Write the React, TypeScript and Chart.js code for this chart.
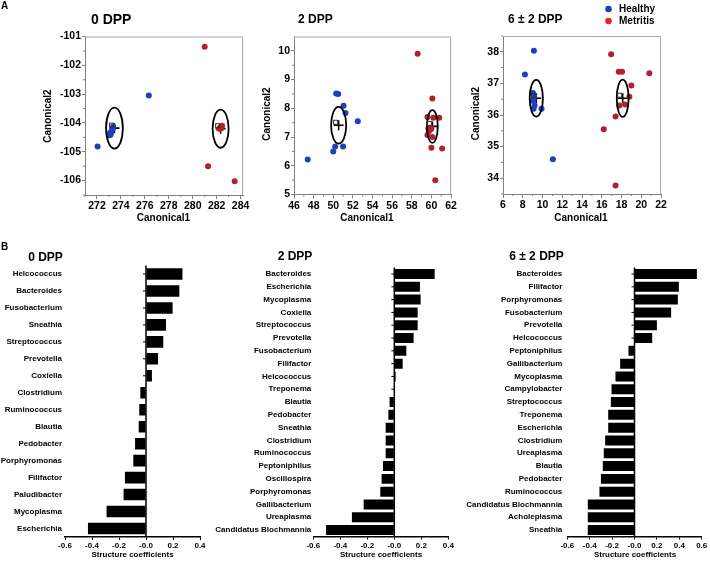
import React, { useEffect, useRef } from 'react';
import { Chart, registerables } from 'chart.js';
Chart.register(...registerables);

const FONT = '"Liberation Sans", Arial, Helvetica, sans-serif';
Chart.defaults.font.family = FONT;
Chart.defaults.color = '#000';

const W = 710;
const H = 561;

const BLUE = '#1f3fbf';
const RED = '#b3202c';
const LEGEND_RED = '#e0262a';

// ---------- Panel A: canonical scatter data ----------
// 0 DPP
const s0HealthyX = [272.05, 276.33, 273.05, 273.1, 273.2, 273.3, 273.35, 273.15];
const s0HealthyY = [-104.82, -103.05, -104.43, -104.35, -104.3, -104.22, -104.12, -104.4];
const s0MetritisX = [281.0, 281.28, 283.5, 282.45, 282.3, 282.2, 282.4];
const s0MetritisY = [-101.36, -105.5, -106.02, -104.1, -104.15, -104.2, -104.18];
const s0CenterX = [273.46, 282.33];
const s0CenterY = [-104.18, -104.2];
const s0RadiusX = [0.7, 0.67];
const s0RadiusY = [0.71, 0.66];
const s0XTicks = [272, 274, 276, 278, 280, 282, 284];
const s0YTicks = [-106, -105, -104, -103, -102, -101];
const s0XMinor = [271, 273, 275, 277, 279, 281, 283];
const s0YMinor = [-106.5, -105.5, -104.5, -103.5, -102.5, -101.5];

// 2 DPP
const s2HealthyX = [47.4, 50.3, 50.5, 51.05, 51.25, 52.5, 51.0, 50.2, 50.0];
const s2HealthyY = [6.22, 8.52, 8.5, 8.09, 7.84, 7.55, 6.67, 6.67, 6.5];
const s2MetritisX = [58.6, 60.1, 59.6, 60.2, 60.8, 59.7, 60.0, 59.6, 60.1, 60.0, 61.1, 60.4, 59.75];
const s2MetritisY = [9.9, 8.34, 7.7, 7.67, 7.67, 7.3, 7.3, 7.07, 7.0, 6.63, 6.6, 5.5, 7.2];
const s2CenterX = [50.55, 60.1];
const s2CenterY = [7.41, 7.37];
const s2RadiusX = [0.77, 0.55];
const s2RadiusY = [0.64, 0.57];
const s2XTicks = [46, 48, 50, 52, 54, 56, 58, 60, 62];
const s2YTicks = [5, 6, 7, 8, 9, 10];
const s2XMinor = [47, 49, 51, 53, 55, 57, 59, 61];
const s2YMinor = [5.5, 6.5, 7.5, 8.5, 9.5];

// 6 ± 2 DPP
const s6HealthyX = [9.13, 8.22, 9.03, 9.1, 9.2, 9.1, 9.9, 9.0, 9.15, 11.05];
const s6HealthyY = [38.03, 37.28, 36.7, 36.5, 36.3, 36.2, 36.2, 36.45, 36.6, 34.6];
const s6MetritisX = [16.95, 17.72, 18.06, 20.82, 19.0, 18.8, 17.78, 18.36, 17.4, 16.2, 17.4];
const s6MetritisY = [37.92, 37.37, 37.37, 37.32, 36.93, 36.58, 36.3, 36.33, 35.95, 35.55, 33.77];
const s6CenterX = [9.37, 18.12];
const s6CenterY = [36.53, 36.53];
const s6RadiusX = [0.67, 0.6];
const s6RadiusY = [0.58, 0.59];
const s6XTicks = [6, 8, 10, 12, 14, 16, 18, 20, 22];
const s6YTicks = [34, 35, 36, 37, 38];
const s6XMinor = [7, 9, 11, 13, 15, 17, 19, 21];
const s6YMinor = [33.5, 34.5, 35.5, 36.5, 37.5, 38.5];

// ---------- Panel B: structure coefficients ----------
const b0Categories = ['Helcococcus', 'Bacteroides', 'Fusobacterium', 'Sneathia', 'Streptococcus', 'Prevotella', 'Coxiella', 'Clostridium', 'Ruminococcus', 'Blautia', 'Pedobacter', 'Porphyromonas', 'Filifactor', 'Paludibacter', 'Mycoplasma', 'Escherichia'];
const b0Values = [0.27, 0.247, 0.197, 0.148, 0.128, 0.089, 0.044, -0.042, -0.05, -0.054, -0.081, -0.094, -0.156, -0.166, -0.292, -0.43];

const b2Categories = ['Bacteroides', 'Escherichia', 'Mycoplasma', 'Coxiella', 'Streptococcus', 'Prevotella', 'Fusobacterium', 'Filifactor', 'Helcococcus', 'Treponema', 'Blautia', 'Pedobacter', 'Sneathia', 'Clostridium', 'Ruminococcus', 'Peptoniphilus', 'Oscillospira', 'Porphyromonas', 'Gallibacterium', 'Ureaplasma', 'Candidatus Blochmannia'];
const b2Values = [0.299, 0.19, 0.195, 0.173, 0.173, 0.143, 0.089, 0.062, 0.01, 0.002, -0.035, -0.044, -0.064, -0.064, -0.064, -0.084, -0.094, -0.104, -0.227, -0.314, -0.506];

const b6Categories = ['Bacteroides', 'Filifactor', 'Porphyromonas', 'Fusobacterium', 'Prevotella', 'Helcococcus', 'Peptoniphilus', 'Gallibacterium', 'Mycoplasma', 'Campylobacter', 'Streptococcus', 'Treponema', 'Escherichia', 'Clostridium', 'Ureaplasma', 'Blautia', 'Pedobacter', 'Ruminococcus', 'Candidatus Blochmannia', 'Acholeplasma', 'Sneathia'];
const b6Values = [0.557, 0.396, 0.387, 0.327, 0.2, 0.158, -0.054, -0.128, -0.17, -0.205, -0.211, -0.235, -0.235, -0.262, -0.274, -0.283, -0.3, -0.313, -0.417, -0.417, -0.417];

const bTicks04 = [-0.6, -0.4, -0.2, 0, 0.2, 0.4];
const bTickLabels04 = ['-0.6', '-0.4', '-0.2', '-0.0', '0.2', '0.4'];
const bTicks06 = [-0.6, -0.4, -0.2, 0, 0.2, 0.4, 0.6];
const bTickLabels06 = ['-0.6', '-0.4', '-0.2', '-0.0', '0.2', '0.4', '0.6'];

const legendLabels = ['Healthy', 'Metritis'];

// ---------- helpers ----------
type Area = { left: number; right: number; top: number; bottom: number };
type TextItem = { t: string; x: number; y: number; size: number; rot?: boolean; align?: CanvasTextAlign };

function drawTexts(ctx: CanvasRenderingContext2D, texts: TextItem[]) {
  ctx.save();
  ctx.fillStyle = '#000';
  ctx.textBaseline = 'middle';
  for (const it of texts) {
    ctx.font = `bold ${it.size}px ${FONT}`;
    ctx.textAlign = it.align || 'center';
    if (it.rot) {
      ctx.save();
      ctx.translate(it.x, it.y);
      ctx.rotate(-Math.PI / 2);
      ctx.fillText(it.t, 0, 0);
      ctx.restore();
    } else {
      ctx.fillText(it.t, it.x, it.y);
    }
  }
  ctx.restore();
}

interface ScatterPanel {
  area: Area;
  xMin: number; xMax: number; yMin: number; yMax: number;
  xTicks: number[]; yTicks: number[]; xMinor: number[]; yMinor: number[];
  hx: number[]; hy: number[]; mx: number[]; my: number[];
  cx: number[]; cy: number[]; rx: number[]; ry: number[];
  texts: TextItem[];
  legend?: boolean;
}

function scatterConfig(p: ScatterPanel): any {
  const decor = {
    id: 'decor',
    beforeDatasetsDraw(chart: any) {
      const { ctx, chartArea: a, scales } = chart;
      ctx.save();
      ctx.strokeStyle = '#a8a8a8';
      ctx.lineWidth = 1;
      ctx.beginPath();
      ctx.moveTo(a.left, a.top + 0.5);
      ctx.lineTo(a.right - 0.5, a.top + 0.5);
      ctx.lineTo(a.right - 0.5, a.bottom);
      ctx.stroke();
      ctx.strokeStyle = '#808080';
      ctx.beginPath();
      for (const v of p.yMinor) {
        const y = scales.y.getPixelForValue(v);
        ctx.moveTo(a.left - 2, y);
        ctx.lineTo(a.left, y);
      }
      for (const v of p.xMinor) {
        const x = scales.x.getPixelForValue(v);
        ctx.moveTo(x, a.bottom);
        ctx.lineTo(x, a.bottom + 2);
      }
      ctx.stroke();
      ctx.restore();
    },
    afterDatasetsDraw(chart: any) {
      const { ctx, scales } = chart;
      ctx.save();
      ctx.strokeStyle = '#000';
      ctx.lineWidth = 1.8;
      for (let i = 0; i < p.cx.length; i++) {
        const x0 = scales.x.getPixelForValue(p.cx[i]);
        const y0 = scales.y.getPixelForValue(p.cy[i]);
        const rxp = Math.abs(scales.x.getPixelForValue(p.cx[i] + p.rx[i]) - x0);
        const ryp = Math.abs(scales.y.getPixelForValue(p.cy[i] + p.ry[i]) - y0);
        ctx.beginPath();
        ctx.ellipse(x0, y0, rxp, ryp, 0, 0, Math.PI * 2);
        ctx.stroke();
        ctx.lineWidth = 1;
        ctx.strokeStyle = '#333';
        ctx.strokeRect(x0 - 5, y0 - 5, 4, 4);
        ctx.lineWidth = 1.8;
        ctx.strokeStyle = '#000';
      }
      ctx.restore();
    },
    afterDraw(chart: any) {
      const { ctx } = chart;
      drawTexts(ctx, p.texts);
      if (p.legend) {
        const cols = [BLUE, LEGEND_RED];
        ctx.save();
        legendLabels.forEach((lab, i) => {
          const y = 9 + i * 12;
          ctx.fillStyle = cols[i];
          ctx.beginPath();
          ctx.arc(608.5, y, 3.3, 0, Math.PI * 2);
          ctx.fill();
        });
        ctx.restore();
        drawTexts(ctx, legendLabels.map((lab, i) => ({ t: lab, x: 619, y: 9 + i * 12, size: 10, align: 'left' as CanvasTextAlign })));
      }
    },
  };
  const tickFont = { size: 10.5, weight: 'bold' as const, family: FONT };
  return {
    type: 'scatter',
    data: {
      datasets: [
        { label: 'Healthy', data: p.hx.map((x, i) => ({ x, y: p.hy[i] })), backgroundColor: BLUE, borderWidth: 0, pointRadius: 3 },
        { label: 'Metritis', data: p.mx.map((x, i) => ({ x, y: p.my[i] })), backgroundColor: RED, borderWidth: 0, pointRadius: 3 },
        { label: 'Mean', data: p.cx.map((x, i) => ({ x, y: p.cy[i] })), pointStyle: 'cross', pointRadius: 5, borderColor: '#000', borderWidth: 1.6, backgroundColor: '#000' },
      ],
    },
    options: {
      animation: false,
      responsive: false,
      events: [],
      layout: { padding: { left: 0, top: p.area.top, right: W - p.area.right, bottom: 0 } },
      plugins: { legend: { display: false }, tooltip: { enabled: false }, title: { display: false } },
      scales: {
        x: {
          type: 'linear',
          min: p.xMin,
          max: p.xMax,
          afterFit: (s: any) => { s.height = H - p.area.bottom; },
          afterBuildTicks: (s: any) => { s.ticks = p.xTicks.map((v) => ({ value: v })); },
          grid: { display: true, drawOnChartArea: false, drawTicks: true, tickLength: 4, color: '#808080' },
          border: { display: true, color: '#808080', width: 1 },
          ticks: { font: tickFont, color: '#000', padding: 1, autoSkip: false, maxRotation: 0, callback: (v: any) => String(v) },
        },
        y: {
          type: 'linear',
          min: p.yMin,
          max: p.yMax,
          afterFit: (s: any) => { s.width = p.area.left; },
          afterBuildTicks: (s: any) => { s.ticks = p.yTicks.map((v) => ({ value: v })); },
          grid: { display: true, drawOnChartArea: false, drawTicks: true, tickLength: 3, color: '#808080' },
          border: { display: true, color: '#808080', width: 1 },
          ticks: { font: tickFont, color: '#000', padding: 1, autoSkip: false, callback: (v: any) => String(v) },
        },
      },
    },
    plugins: [decor],
  };
}

interface BarPanel {
  area: Area;
  categories: string[];
  values: number[];
  xMin: number; xMax: number;
  ticks: number[]; tickLabels: string[];
  barPct: number;
  labelPad: number;
  texts: TextItem[];
}

function barConfig(p: BarPanel): any {
  const decor = {
    id: 'barDecor',
    afterDatasetsDraw(chart: any) {
      const { ctx, chartArea: a, scales } = chart;
      const x0 = scales.x.getPixelForValue(0);
      ctx.save();
      ctx.strokeStyle = '#000';
      ctx.lineWidth = 1.5;
      ctx.beginPath();
      ctx.moveTo(x0, a.top);
      ctx.lineTo(x0, a.bottom);
      ctx.stroke();
      ctx.lineWidth = 1;
      ctx.beginPath();
      p.categories.forEach((_, i) => {
        const y = scales.y.getPixelForValue(i);
        ctx.moveTo(x0 - 3, y);
        ctx.lineTo(x0, y);
      });
      ctx.stroke();
      ctx.restore();
    },
    afterDraw(chart: any) {
      drawTexts(chart.ctx, p.texts);
    },
  };
  const tickFont = { size: 8, weight: 'bold' as const, family: FONT };
  return {
    type: 'bar',
    data: {
      labels: p.categories,
      datasets: [{ data: p.values, backgroundColor: '#000', borderWidth: 0, barPercentage: p.barPct, categoryPercentage: 1 }],
    },
    options: {
      indexAxis: 'y',
      animation: false,
      responsive: false,
      events: [],
      layout: { padding: { left: 0, top: p.area.top, right: W - p.area.right, bottom: 0 } },
      plugins: { legend: { display: false }, tooltip: { enabled: false }, title: { display: false } },
      scales: {
        x: {
          type: 'linear',
          min: p.xMin,
          max: p.xMax,
          afterFit: (s: any) => { s.height = H - p.area.bottom; },
          afterBuildTicks: (s: any) => { s.ticks = p.ticks.map((v) => ({ value: v })); },
          grid: { display: true, drawOnChartArea: false, drawTicks: true, tickLength: 3, color: '#000', lineWidth: 1 },
          border: { display: true, color: '#000', width: 1.5 },
          ticks: {
            font: tickFont, color: '#000', padding: 1, autoSkip: false, maxRotation: 0,
            callback: (_v: any, i: number) => p.tickLabels[i],
          },
        },
        y: {
          type: 'category',
          afterFit: (s: any) => { s.width = p.area.left; },
          grid: { display: false, drawTicks: false },
          border: { display: false },
          ticks: { font: tickFont, color: '#000', padding: p.labelPad, autoSkip: false },
        },
      },
    },
    plugins: [decor],
  };
}

function ChartCanvas({ make }: { make: () => any }) {
  const ref = useRef<HTMLCanvasElement | null>(null);
  useEffect(() => {
    const chart = new Chart(ref.current as HTMLCanvasElement, make());
    return () => chart.destroy();
  }, []);
  return (
    <canvas
      ref={ref}
      width={W}
      height={H}
      style={{ position: 'absolute', left: 0, top: 0, width: W, height: H }}
    />
  );
}

const panels: (() => any)[] = [
  () => scatterConfig({
    area: { left: 85, right: 243, top: 36.5, bottom: 195 },
    xMin: 271, xMax: 284.2, yMin: -106.5, yMax: -101,
    xTicks: s0XTicks, yTicks: s0YTicks, xMinor: s0XMinor, yMinor: s0YMinor,
    hx: s0HealthyX, hy: s0HealthyY, mx: s0MetritisX, my: s0MetritisY,
    cx: s0CenterX, cy: s0CenterY, rx: s0RadiusX, ry: s0RadiusY,
    texts: [
      { t: 'A', x: 1, y: 6, size: 10, align: 'left' },
      { t: '0 DPP', x: 91, y: 20, size: 14, align: 'left' },
      { t: 'Canonical1', x: 163.5, y: 218, size: 10 },
      { t: 'Canonical2', x: 48, y: 116, size: 10, rot: true },
    ],
  }),
  () => scatterConfig({
    area: { left: 294, right: 451, top: 36.5, bottom: 194.5 },
    xMin: 46, xMax: 62, yMin: 5, yMax: 10.5,
    xTicks: s2XTicks, yTicks: s2YTicks, xMinor: s2XMinor, yMinor: s2YMinor,
    hx: s2HealthyX, hy: s2HealthyY, mx: s2MetritisX, my: s2MetritisY,
    cx: s2CenterX, cy: s2CenterY, rx: s2RadiusX, ry: s2RadiusY,
    texts: [
      { t: '2 DPP', x: 298, y: 20, size: 12, align: 'left' },
      { t: 'Canonical1', x: 367, y: 218, size: 10 },
      { t: 'Canonical2', x: 267, y: 114, size: 10, rot: true },
    ],
  }),
  () => scatterConfig({
    area: { left: 503, right: 661, top: 36, bottom: 194 },
    xMin: 6, xMax: 22, yMin: 33.5, yMax: 38.5,
    xTicks: s6XTicks, yTicks: s6YTicks, xMinor: s6XMinor, yMinor: s6YMinor,
    hx: s6HealthyX, hy: s6HealthyY, mx: s6MetritisX, my: s6MetritisY,
    cx: s6CenterX, cy: s6CenterY, rx: s6RadiusX, ry: s6RadiusY,
    legend: true,
    texts: [
      { t: '6 ± 2 DPP', x: 508, y: 20, size: 12, align: 'left' },
      { t: 'Canonical1', x: 581, y: 218, size: 10 },
      { t: 'Canonical2', x: 476.5, y: 113.5, size: 10, rot: true },
    ],
  }),
  () => barConfig({
    area: { left: 65, right: 200, top: 265.5, bottom: 537 },
    categories: b0Categories, values: b0Values,
    xMin: -0.6, xMax: 0.4, ticks: bTicks04, tickLabels: bTickLabels04,
    barPct: 0.68, labelPad: 3,
    texts: [
      { t: 'B', x: 1, y: 247, size: 10, align: 'left' },
      { t: '0 DPP', x: 45.5, y: 258, size: 12 },
      { t: 'Structure coefficients', x: 132.5, y: 555, size: 8 },
    ],
  }),
  () => barConfig({
    area: { left: 313.3, right: 448.3, top: 267.6, bottom: 536.5 },
    categories: b2Categories, values: b2Values,
    xMin: -0.6, xMax: 0.4, ticks: bTicks04, tickLabels: bTickLabels04,
    barPct: 0.78, labelPad: 2,
    texts: [
      { t: '2 DPP', x: 295, y: 257, size: 12 },
      { t: 'Structure coefficients', x: 381, y: 555, size: 8 },
    ],
  }),
  () => barConfig({
    area: { left: 567.3, right: 701.7, top: 267.6, bottom: 536.5 },
    categories: b6Categories, values: b6Values,
    xMin: -0.6, xMax: 0.6, ticks: bTicks06, tickLabels: bTickLabels06,
    barPct: 0.78, labelPad: 5,
    texts: [
      { t: '6 ± 2 DPP', x: 536.5, y: 257, size: 12 },
      { t: 'Structure coefficients', x: 635, y: 555, size: 8 },
    ],
  }),
];

export default function App() {
  return (
    <div style={{ position: 'fixed', left: 0, top: 0, width: W, height: H, background: '#fff' }}>
      {panels.map((make, i) => (
        <ChartCanvas key={i} make={make} />
      ))}
    </div>
  );
}
